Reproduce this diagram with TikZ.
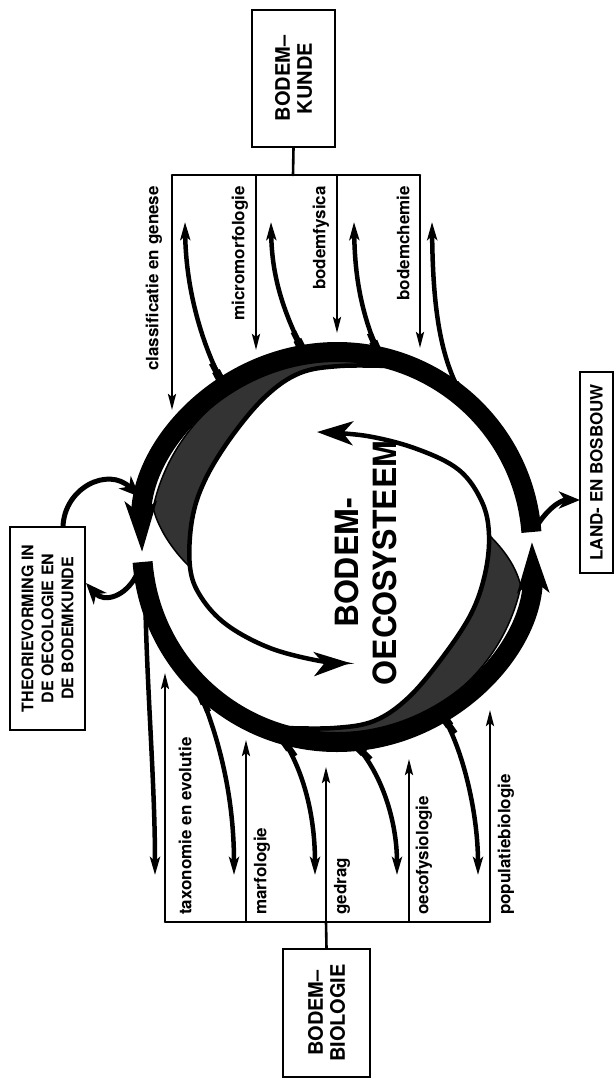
\documentclass[tikz,border=0pt]{standalone}
\usepackage{fontspec}
\setmainfont{TeX Gyre Heros}
\usetikzlibrary{arrows.meta,calc}

\begin{document}
\begin{tikzpicture}[x=1pt, y=-1pt, font=\bfseries,
  box/.style={draw, line width=1.7pt, rotate=90, inner sep=0pt, align=center},
  lbl/.style={rotate=90, inner sep=0pt, font=\bfseries\fontsize{17}{20}\selectfont},
  bar/.style={line width=2.6pt, line cap=round},
  stem/.style={line width=2.6pt, -{Stealth[length=16pt, width=8pt, inset=3pt]}},
  branch/.style={line width=4.5pt, -{Stealth[length=18pt, width=10pt, inset=4pt]}},
  stub/.style={line width=8.5pt},
  stubthin/.style={line width=6pt},
  loop/.style={line width=5pt, -{Stealth[length=21pt, width=17pt, inset=6pt]}},
  ring/.style={line width=20pt, -{Stealth[length=50pt, width=31pt, inset=12pt]}},
  crescent/.style={fill=black!80, draw=black, line width=1.5pt},
  inner/.style={line width=4.5pt, -{Stealth[length=36pt, width=24pt, inset=10pt]}}]

\useasboundingbox (0,0) rectangle (616,1080);

% boxes
\node[box, minimum width=137pt, minimum height=83pt, font=\bfseries\fontsize{20}{22}\selectfont] (kunde) at (293.5,78.5) {BODEM--\\KUNDE};
\node[box, minimum width=128pt, minimum height=87pt, font=\bfseries\fontsize{20}{22}\selectfont] (biologie) at (326.5,1013) {BODEM--\\BIOLOGIE};
\node[box, minimum width=203pt, minimum height=75pt, font=\bfseries\fontsize{16}{20}\selectfont] (theorie) at (47.5,628.5) {THEORIEVORMING IN\\DE OECOLOGIE EN\\DE BODEMKUNDE};
\node[box, minimum width=201pt, minimum height=33pt, font=\bfseries\fontsize{17}{20}\selectfont] (land) at (596.5,472.5) {LAND- EN BOSBOUW};
\node[rotate=90, align=center, font=\bfseries\fontsize{32}{38}\selectfont] (eco) at (366,563) {BODEM-\\OECOSYSTEEM};

% ring
\begin{scope}[shift={(337,547)}]
\fill[crescent] (-74:188) arc[start angle=-74, end angle=-168, radius=188] .. controls (-178,-15) and (-160,8) .. (-147,20)
  -- plot[smooth, tension=0.6] coordinates {(-147,20) (-145,-27) (-132,-67) (-105,-111) (-71,-151) (-37,-174) (3,-181) (52,-181)} -- cycle;
\draw[inner] plot[smooth, tension=0.6] coordinates {(52,-181) (3,-181) (-37,-174) (-71,-151) (-105,-111) (-132,-67) (-145,-27) (-147,20) (-136,50) (-110,78) (-67,101) (-17,114) (13,116)};
\draw[ring] (-4.4:195) arc[start angle=-4.4, end angle=-181.5, radius=195];
\end{scope}
\begin{scope}[shift={(337,547)}, rotate=180]
\fill[crescent] (-74:188) arc[start angle=-74, end angle=-168, radius=188] .. controls (-178,-15) and (-162,2) .. (-152,12)
  -- plot[smooth, tension=0.6] coordinates {(-152,12) (-148,-27) (-134,-67) (-105,-111) (-71,-151) (-37,-174) (3,-181) (52,-181)} -- cycle;
\draw[inner] plot[smooth, tension=0.6] coordinates {(52,-181) (3,-181) (-37,-174) (-71,-151) (-105,-111) (-134,-67) (-148,-27) (-152,12) (-145,45) (-122,77) (-80,98) (-30,111) (20,115)};
\draw[ring] (-4.4:195) arc[start angle=-4.4, end angle=-181.5, radius=195];
\end{scope}

% bodemkunde
\coordinate (kmid) at (293,175);
\coordinate (k1) at (172,175);
\coordinate (k2) at (256,175);
\coordinate (k3) at (337,175);
\coordinate (k4) at (420,175);
\coordinate (kd1) at (172,410);
\coordinate (kd2) at (256,350);
\coordinate (kd3) at (337,333);
\coordinate (kd4) at (420,348);
\coordinate (ku1) at (185,222);
\coordinate (ku2) at (271,222);
\coordinate (ku3) at (354,222);
\coordinate (ku4) at (432,222);
\coordinate (kr1) at (224,386);
\coordinate (kr2) at (305,355);
\coordinate (kr3) at (380,357);
\coordinate (kr4) at (463,398);

\draw[bar] (kunde.west) -- (kmid);
\draw[bar] (k1) -- (k4);
\draw[stem] (k1) -- (kd1);
\draw[stem] (k2) -- (kd2);
\draw[stem] (k3) -- (kd3);
\draw[stem] (k4) -- (kd4);
\draw[branch] (kr1) .. controls (202,345) and (186,290) .. (ku1);
\draw[branch] (kr2) .. controls (285,315) and (272,280) .. (ku2);
\draw[branch] (kr3) .. controls (362,315) and (355,280) .. (ku3);
\draw[branch] (kr4) .. controls (443,362) and (433,320) .. (ku4);
\draw[stubthin] (kr1) -- ($(kr1)!26pt!(202,345)$);
\draw[stubthin] (kr2) -- ($(kr2)!26pt!(285,315)$);
\draw[stubthin] (kr3) -- ($(kr3)!26pt!(362,315)$);
\draw[stubthin] (kr4) -- ($(kr4)!26pt!(443,362)$);
\draw[stub] (kr1) -- ($(kr1)!17pt!(202,345)$);
\draw[stub] (kr2) -- ($(kr2)!17pt!(285,315)$);
\draw[stub] (kr3) -- ($(kr3)!17pt!(362,315)$);
\draw[stub] (kr4) -- ($(kr4)!17pt!(443,362)$);

\node[lbl, anchor=east] (klass) at (154,186) {classificatie en genese};
\node[lbl, anchor=east] (micro) at (240,186) {micromorfologie};
\node[lbl, anchor=east] (fysica) at (321,186) {bodemfysica};
\node[lbl, anchor=east] (chemie) at (403,186) {bodemchemie};

% bodembiologie
\coordinate (bmid) at (326,922);
\coordinate (b1) at (165,922);
\coordinate (b2) at (246,922);
\coordinate (b4) at (409,922);
\coordinate (b5) at (490,922);
\coordinate (bu1) at (165,673);
\coordinate (bu2) at (246,740);
\coordinate (bu3) at (326,767);
\coordinate (bu4) at (409,759);
\coordinate (bu5) at (490,710);
\coordinate (bd1) at (155,875);
\coordinate (bd2) at (234,875);
\coordinate (bd3) at (315,875);
\coordinate (bd4) at (397,875);
\coordinate (bd5) at (478,875);
\coordinate (br1) at (145,582);
\coordinate (br2) at (198,688);
\coordinate (br3) at (280,735);
\coordinate (br4) at (352,741);
\coordinate (br5) at (440,712);

\draw[bar] (biologie.east) -- (bmid);
\draw[bar] (b1) -- (b5);
\draw[stem] (b1) -- (bu1);
\draw[stem] (b2) -- (bu2);
\draw[stem] (bmid) -- (bu3);
\draw[stem] (b4) -- (bu4);
\draw[stem] (b5) -- (bu5);
\draw[branch] (br1) .. controls (146,680) and (155,780) .. (bd1);
\draw[branch] (br2) .. controls (216,730) and (234,790) .. (bd2);
\draw[branch] (br3) .. controls (301,765) and (315,810) .. (bd3);
\draw[branch] (br4) .. controls (381,770) and (397,820) .. (bd4);
\draw[branch] (br5) .. controls (461,742) and (478,810) .. (bd5);
\draw[stubthin] (br1) -- ($(br1)!28pt!(146,680)$);
\draw[stubthin] (br2) -- ($(br2)!26pt!(216,730)$);
\draw[stubthin] (br3) -- ($(br3)!26pt!(301,765)$);
\draw[stubthin] (br4) -- ($(br4)!26pt!(381,770)$);
\draw[stubthin] (br5) -- ($(br5)!26pt!(461,742)$);
\draw[stub] (br1) -- ($(br1)!19pt!(146,680)$);
\draw[stub] (br2) -- ($(br2)!17pt!(216,730)$);
\draw[stub] (br3) -- ($(br3)!17pt!(301,765)$);
\draw[stub] (br4) -- ($(br4)!17pt!(381,770)$);
\draw[stub] (br5) -- ($(br5)!17pt!(461,742)$);

\node[lbl, anchor=west] (taxo) at (185,915) {taxonomie en evolutie};
\node[lbl, anchor=west] (marfo) at (262,915) {marfologie};
\node[lbl, anchor=west] (gedrag) at (342,915) {gedrag};
\node[lbl, anchor=west] (fysio) at (424,915) {oecofysiologie};
\node[lbl, anchor=west] (popu) at (506,915) {populatiebiologie};

% theorie en land- en bosbouw
\coordinate (t1) at (63,527);
\coordinate (t2) at (86,583);
\coordinate (tr1) at (140,497);
\coordinate (tr2) at (137,574);
\coordinate (lr) at (535,529);
\coordinate (lt) at (580,500);
\draw[loop] (t1) .. controls (64,488) and (108,466) .. (tr1);
\draw[loop] (tr2) .. controls (126,597) and (104,603) .. (t2);
\draw[loop] (lr) .. controls (546,510) and (560,500) .. (lt);
\end{tikzpicture}
\end{document}
